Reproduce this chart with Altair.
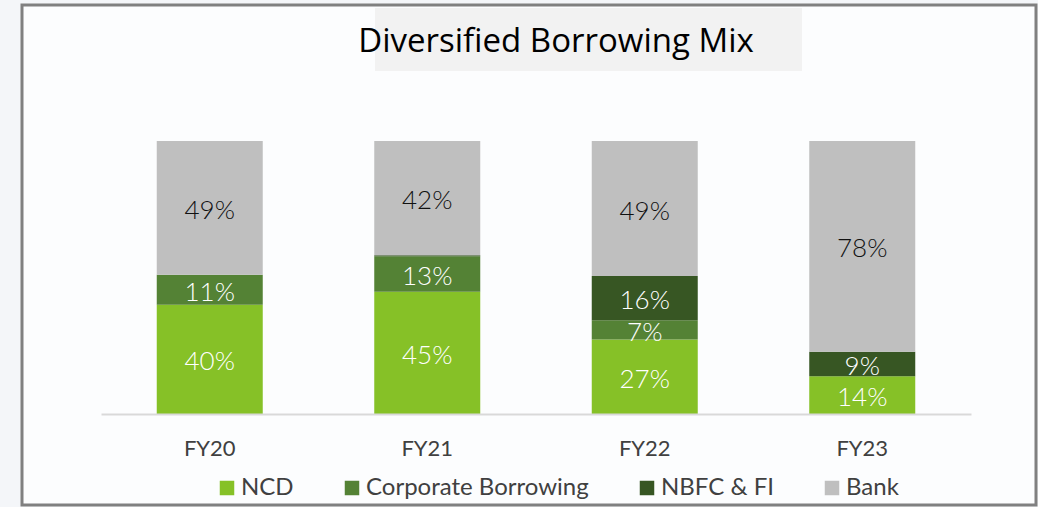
import altair as alt
import pandas as pd

years = ["FY20", "FY21", "FY22", "FY23"]
series = ["NCD", "Corporate Borrowing", "NBFC & FI", "Bank"]
ncd = [40, 45, 27, 14]
corporate = [11, 13, 7, 0]
nbfc = [0, 0.4, 16, 9]
bank = [49, 42, 49, 78]
colors = ["#86c127", "#548235", "#375623", "#bfbfbf"]
label_colors = ["#ffffff", "#ffffff", "#ffffff", "#111111"]

rows = []
for i, y in enumerate(years):
    for s, vals, lc in zip(series, [ncd, corporate, nbfc, bank], label_colors):
        v = vals[i]
        rows.append({"year": y, "series": s, "value": v, "order": series.index(s),
                     "label": f"{round(v)}%" if v >= 1 else "", "lc": lc})
df = pd.DataFrame(rows)

W, H = 870, 273
FONT = "Lato"

frame = alt.Chart(pd.DataFrame({"a": [0]})).mark_rect(
    fill="#fcfdfe", stroke="#808080", strokeWidth=3
).encode(x=alt.value(-79), x2=alt.value(935), y=alt.value(-136), y2=alt.value(364))

title_box = alt.Chart(pd.DataFrame({"a": [0]})).mark_rect(fill="#f2f2f2").encode(
    x=alt.value(274), x2=alt.value(701), y=alt.value(-133), y2=alt.value(-70)
)

base = alt.Chart(df).transform_filter(alt.datum.value > 0)

xenc = alt.X("year:N", sort=years, title=None,
             scale=alt.Scale(paddingInner=0.51, paddingOuter=0.255),
             axis=alt.Axis(labelFont=FONT, labelFontSize=22, labelColor="#404040",
                           labelPadding=24, ticks=False, domainColor="#d9d9d9",
                           domainWidth=2, labelAngle=0, grid=False, zindex=1))

bars = base.mark_bar(size=106).encode(
    x=xenc,
    y=alt.Y("value:Q", stack="normalize", scale=alt.Scale(domain=[0, 1]), axis=None),
    color=alt.Color("series:N", sort=series,
                    scale=alt.Scale(domain=series, range=colors),
                    legend=alt.Legend(title=None, orient="none", legendX=114, legendY=335,
                                      direction="horizontal", symbolType="square",
                                      symbolSize=210, symbolStrokeWidth=0,
                                      labelFont=FONT, labelFontSize=24, labelColor="#404040",
                                      labelOffset=2, columnPadding=46, labelLimit=0)),
    order=alt.Order("order:Q"),
)

labels = base.transform_joinaggregate(total="sum(value)", groupby=["year"]).transform_stack(
    stack="value", groupby=["year"], as_=["v0", "v1"], sort=[alt.SortField("order")]
).transform_calculate(mid="(datum.v0 + datum.v1) / 2 / datum.total").mark_text(
    font=FONT, fontSize=26, fontWeight=300, dy=3
).encode(
    x=xenc,
    y=alt.Y("mid:Q", axis=None),
    text="label:N",
    color=alt.Color("lc:N", scale=None),
)

chart = alt.layer(frame, title_box, bars, labels).properties(
    width=W, height=H,
    title=alt.TitleParams("Diversified Borrowing Mix", font="Open Sans", fontSize=33,
                          fontWeight="normal", color="#000000", anchor="middle",
                          dx=20, offset=-55),
    background="#f4f6f9",
    padding={"left": 101, "top": 141, "right": 67, "bottom": 93},
    autosize=alt.AutoSizeParams(type="none"),
).configure_view(stroke=None)

chart.save("out.html", embed_options={"renderer": "svg", "actions": False})
